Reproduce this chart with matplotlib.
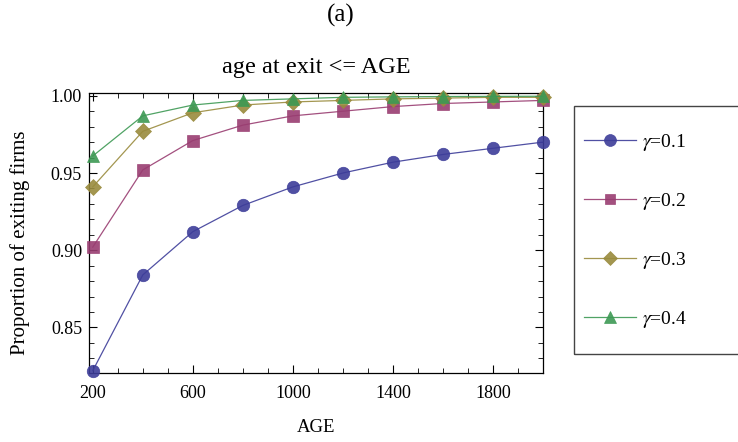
import numpy as np
import matplotlib
matplotlib.use("Agg")
from matplotlib import pyplot as plt
from matplotlib.patches import Rectangle
from matplotlib.ticker import MultipleLocator, FixedLocator

plt.rcParams['font.family'] = ['Liberation Serif', 'DejaVu Serif']
plt.rcParams['mathtext.fontset'] = 'stix'

# data
age = [200, 400, 600, 800, 1000, 1200, 1400, 1600, 1800, 2000]
g01 = [0.822, 0.884, 0.912, 0.929, 0.941, 0.950, 0.957, 0.962, 0.966, 0.970]
g02 = [0.902, 0.952, 0.971, 0.981, 0.987, 0.990, 0.993, 0.995, 0.996, 0.997]
g03 = [0.941, 0.977, 0.989, 0.994, 0.996, 0.997, 0.998, 0.9985, 0.999, 0.999]
g04 = [0.961, 0.987, 0.994, 0.997, 0.998, 0.999, 0.9993, 0.9995, 0.9996, 0.9997]
labels = [r"$\gamma$=0.1", r"$\gamma$=0.2", r"$\gamma$=0.3", r"$\gamma$=0.4"]

colors = [(0.24, 0.24, 0.6), (0.6, 0.24, 0.442), (0.6, 0.547, 0.24), (0.24, 0.6, 0.33)]
markers = ['o', 's', 'D', '^']
msizes = [9, 8, 8, 9]

W, H = 738, 442
fig = plt.figure(figsize=(W/100, H/100), dpi=100)
ax = fig.add_axes([89/W, 1-373/H, (543-89)/W, (373-93)/H])

for ys, lab, c, m, ms in zip([g01, g02, g03, g04], labels, colors, markers, msizes):
    ax.plot(age, ys, color=c, lw=0.9, alpha=0.9, marker=m, markersize=ms,
            markerfacecolor=c, markeredgecolor=c, markeredgewidth=0.5,
            label=lab, clip_on=False, zorder=3)

ax.set_xlim(185, 2000)
ax.set_ylim(0.8205, 1.0018)
ax.xaxis.set_major_locator(FixedLocator([200, 600, 1000, 1400, 1800]))
ax.xaxis.set_minor_locator(MultipleLocator(100))
ax.yaxis.set_major_locator(MultipleLocator(0.05))
ax.yaxis.set_minor_locator(MultipleLocator(0.01))
ax.yaxis.set_major_formatter(matplotlib.ticker.FormatStrFormatter('%.2f'))
ax.tick_params(which='both', direction='in', top=True, right=True, labelsize=13)
ax.tick_params(which='major', length=6, width=0.8)
ax.tick_params(which='minor', length=3.5, width=0.6)
ax.tick_params(axis='x', pad=9)
ax.tick_params(axis='y', pad=5)
for s in ax.spines.values():
    s.set_linewidth(0.9)

# axis labels and titles placed in figure pixels
fig.text(316/W, 1-427/H, "AGE", ha='center', va='center', fontsize=13.5)
fig.text(20/W, 1-243/H, "Proportion of exiting firms", ha='center', va='center',
         rotation=90, fontsize=15)
fig.text(316/W, 1-68/H, "age at exit <= AGE", ha='center', va='center', fontsize=17.5)
fig.text(341/W, 1-15/H, "(a)", ha='center', va='center', fontsize=18)

# legend box, running off the right edge
fig.patches.append(Rectangle((574/W, 1-354/H), 0.4, (354-106)/H,
                             transform=fig.transFigure, fill=False,
                             edgecolor='#444444', lw=1.0))
handles, labs = ax.get_legend_handles_labels()
fig.legend(handles, labs, loc='center left', bbox_to_anchor=(576/W, 1-231/H),
           frameon=False, fontsize=14, labelspacing=1.95, handlelength=2.7,
           handletextpad=0.3, markerscale=0.95, borderaxespad=0)

plt.savefig("out.png", dpi=100)
